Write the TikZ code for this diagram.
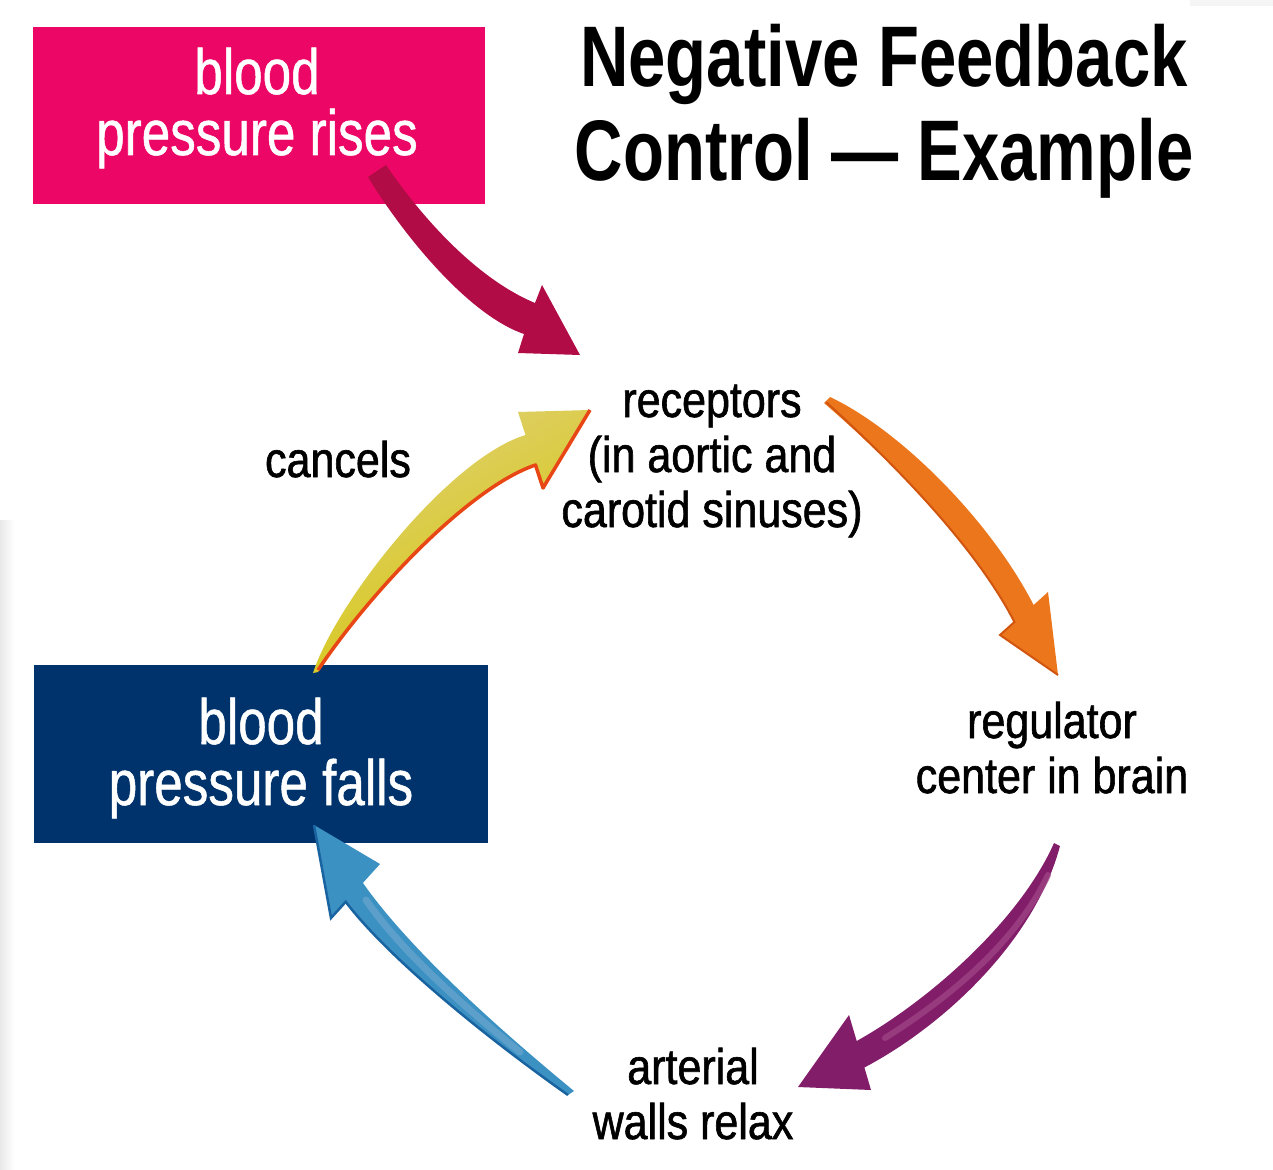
\documentclass[tikz,border=0pt]{standalone}
\usepackage{fontspec}
\setmainfont{Liberation Sans}
\newfontfamily\titlefont[FakeStretch=0.78]{Liberation Sans}
\newfontfamily\boxfont[FakeStretch=0.8,FakeBold=0.8]{Liberation Sans}
\newfontfamily\labfont[FakeStretch=0.86,FakeBold=1.2]{Liberation Sans}
\definecolor{pinkc}{RGB}{236,6,101}
\definecolor{navyc}{RGB}{0,51,107}
\definecolor{crimsonc}{RGB}{178,12,70}
\definecolor{yellowc}{RGB}{212,198,0}
\definecolor{yellowl}{RGB}{224,208,120}
\definecolor{redge}{RGB}{232,70,20}
\definecolor{orangec}{RGB}{236,118,28}
\definecolor{oranged}{RGB}{210,85,15}
\definecolor{purplec}{RGB}{130,30,105}
\definecolor{purplel}{RGB}{160,72,135}
\definecolor{bluec}{RGB}{60,145,195}
\definecolor{blued}{RGB}{25,100,160}
\definecolor{bluel}{RGB}{105,165,205}
\tikzset{
  boxnode/.style={draw=none, inner sep=0pt, anchor=north west},
  boxtext/.style={text=white, align=center, inner sep=0pt, anchor=base,
    font=\boxfont\fontsize{64}{61}\selectfont},
  labtext/.style={text=black, align=center, inner sep=0pt, anchor=base,
    font=\labfont\fontsize{50}{55}\selectfont},
  titletext/.style={text=black, align=center, inner sep=0pt, anchor=base,
    font=\titlefont\bfseries\fontsize{86}{93}\selectfont},
}
\begin{document}
\begin{tikzpicture}[x=1pt,y=-1pt]
\useasboundingbox (0,0) rectangle (1273,1169);
\fill[white] (0,0) rectangle (1273,1169);
\shade[left color=gray!18, right color=white] (0,520) rectangle (14,1169);
\fill[gray!8] (1190,0) rectangle (1273,6);

% boxes
\node[boxnode, fill=pinkc, minimum width=452pt, minimum height=177pt] (rises) at (33,27) {};
\node[boxtext] (risestext) at (257,155) {blood\\pressure rises};
\node[boxnode, fill=navyc, minimum width=454pt, minimum height=178pt] (falls) at (34,665) {};
\node[boxtext] (fallstext) at (261,805) {blood\\pressure falls};

% title
\node[titletext] (title) at (884,180) {Negative Feedback\\Control — Example};

% labels
\node[labtext] (receptors) at (712,527) {receptors\\(in aortic and\\carotid sinuses)};
\node[labtext] (cancels) at (338,477) {cancels};
\node[labtext] (regulator) at (1052,793) {regulator\\center in brain};
\node[labtext] (arterial) at (693,1139) {arterial\\walls relax};

% arrow 1: crimson (rises -> receptors)
\coordinate (a1t) at (377,171);
\coordinate (a1p) at (580,355);
\fill[crimsonc] (386,165) .. controls (420,215) and (475,278) .. (535,303)
  -- (542,285) -- (a1p) -- (518,353) -- (524,334)
  .. controls (466,314) and (400,230) .. (368,177) -- cycle;

% arrow 2: yellow (falls -> receptors, cancels)
\coordinate (a2t) at (315,673);
\coordinate (a2p) at (590,410);
\shade[left color=yellowl, right color=yellowc, shading angle=30]
  (313,673) .. controls (337,600) and (450,458) .. (525.5,435)
  -- (518,412) -- (a2p) -- (543,488) -- (535.5,465)
  .. controls (470,487) and (372,590) .. (318,672) -- cycle;
\draw[redge, line width=3.5pt, line join=round]
  (a2p) -- (543,488) -- (535.5,465) .. controls (470,487) and (372,590) .. (318,670);

% arrow 3: orange (receptors -> regulator)
\coordinate (a3t) at (827,400);
\coordinate (a3p) at (1058,675);
\fill[orangec] (830,397) .. controls (900,430) and (990,520) .. (1033.6,605)
  -- (1048,592) -- (a3p) -- (1000,635) -- (1014.4,622)
  .. controls (975,545) and (890,460) .. (824,403) -- cycle;
\draw[oranged, line width=2pt] (a3p) -- (1000,635) -- (1014.4,622)
  .. controls (975,545) and (890,460) .. (826,402);

% arrow 4: purple (regulator -> arterial)
\coordinate (a4t) at (1057,841);
\coordinate (a4p) at (798,1087);
\fill[purplec] (1054,843) .. controls (1020,920) and (930,1000) .. (856.7,1041)
  -- (849,1015) -- (a4p) -- (871,1090) -- (864.4,1067.5)
  .. controls (945,1025) and (1035,940) .. (1060,846) -- cycle;
\draw[purplel, line width=6pt, line cap=round, opacity=0.7]
  (1048,875) .. controls (1018,938) and (958,992) .. (885,1038);

% arrow 5: blue (arterial -> falls)
\coordinate (a5t) at (572,1094);
\coordinate (a5p) at (314,825);
\fill[bluec] (568,1095) .. controls (490,1040) and (390,960) .. (345.7,901.8)
  -- (331,918) -- (a5p) -- (380,864) -- (362.9,882.9)
  .. controls (410,950) and (500,1030) .. (574,1091) -- cycle;
\draw[bluel, line width=7pt, line cap=round, opacity=0.7]
  (520,1052) .. controls (462,1005) and (402,952) .. (366,900);
\draw[blued, line width=2.5pt]
  (568,1095) .. controls (490,1040) and (390,960) .. (345.7,901.8) -- (331,918) -- (a5p);
\end{tikzpicture}
\end{document}
